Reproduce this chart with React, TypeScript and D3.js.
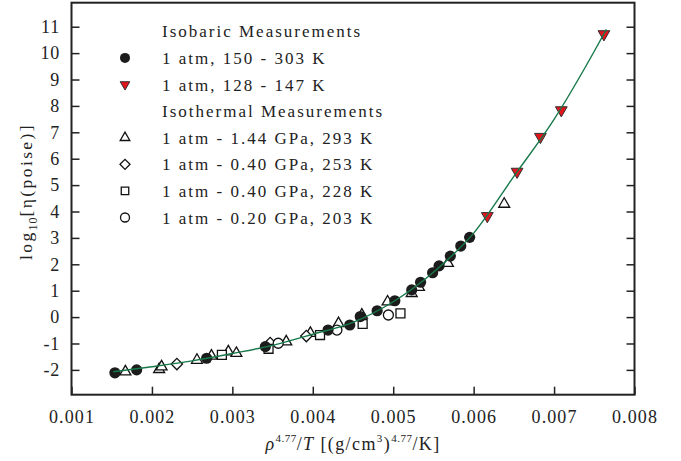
import React, { useEffect, useRef } from 'react';
import * as d3 from 'd3';

// isobaric, 1 atm, 150 - 303 K (filled circles)
const isoBarX = [0.00154, 0.00181, 0.00268, 0.00341, 0.00419, 0.00446, 0.00459, 0.0048, 0.00502, 0.00523, 0.00534, 0.00549, 0.00557, 0.00571, 0.00584, 0.00595];
const isoBarY = [-2.11, -2.0, -1.56, -1.12, -0.49, -0.3, 0.02, 0.24, 0.62, 1.03, 1.32, 1.68, 1.94, 2.31, 2.69, 3.02];
// isobaric, 1 atm, 128 - 147 K (red down triangles)
const lowTX = [0.00617, 0.00654, 0.00683, 0.00709, 0.00762];
const lowTY = [3.83, 5.51, 6.83, 7.84, 10.72];
// isothermal 293 K (open triangles)
const t293X = [0.00167, 0.00209, 0.00212, 0.00256, 0.00274, 0.00295, 0.00305, 0.00367, 0.00397, 0.00432, 0.00461, 0.00493, 0.00523, 0.00532, 0.00568, 0.00638];
const t293Y = [-2.07, -1.98, -1.88, -1.63, -1.47, -1.31, -1.37, -0.93, -0.61, -0.24, 0.08, 0.58, 0.9, 1.13, 2.04, 4.28];
// isothermal 253 K (open diamonds)
const t253X = [0.00231, 0.00347, 0.00392];
const t253Y = [-1.78, -0.98, -0.72];
// isothermal 228 K (open squares)
const t228X = [0.00287, 0.00345, 0.00409, 0.00462, 0.00509];
const t228Y = [-1.43, -1.2, -0.68, -0.26, 0.14];
// isothermal 203 K (open circles)
const t203X = [0.00357, 0.0043, 0.00494];
const t203Y = [-0.99, -0.49, 0.08];

// fitted curve
const fitX = [0.00152, 0.002, 0.0025, 0.003, 0.0035, 0.004, 0.0045, 0.005, 0.0055, 0.006, 0.0065, 0.007, 0.0075, 0.00765];
const fitY = [-2.07, -1.88, -1.66, -1.38, -1.07, -0.65, -0.2, 0.58, 1.7, 3.18, 5.33, 7.49, 10.07, 10.9];

const xTicks = [0.001, 0.002, 0.003, 0.004, 0.005, 0.006, 0.007, 0.008];
const yTicks = [-2, -1, 0, 1, 2, 3, 4, 5, 6, 7, 8, 9, 10, 11];

const legendItems = [
  { label: 'Isobaric Measurements', symbol: null },
  { label: '1 atm, 150 - 303 K', symbol: 'dot' },
  { label: '1 atm, 128 - 147 K', symbol: 'down' },
  { label: 'Isothermal Measurements', symbol: null },
  { label: '1 atm - 1.44 GPa, 293 K', symbol: 'tri' },
  { label: '1 atm - 0.40 GPa, 253 K', symbol: 'diamond' },
  { label: '1 atm - 0.40 GPa, 228 K', symbol: 'square' },
  { label: '1 atm - 0.20 GPa, 203 K', symbol: 'circle' },
];

const FONT = '"Liberation Serif", "Times New Roman", serif';
const W = 681;
const H = 461;

const App = () => {
  const svgRef = useRef<SVGSVGElement>(null);

  useEffect(() => {
    const svg = d3.select(svgRef.current);
    svg.selectAll('*').remove();

    const left = 71.5, right = 634.5, top = 2.7, bottom = 394.7;

    const x = d3.scaleLinear().domain([0.001, 0.008]).range([left, right]);
    const y = d3.scaleLinear().domain([-2.94, 11.91]).range([bottom, top]);

    const g = svg.append('g');

    // axes
    g.append('g')
      .attr('transform', `translate(0,${bottom})`)
      .call(d3.axisBottom(x).tickValues(xTicks).tickSize(-8).tickPadding(15.5).tickSizeOuter(0).tickFormat(d3.format('.3f')))
      .call(a => a.select('.domain').remove())
      .call(a => a.selectAll('line').attr('stroke', '#222').attr('stroke-width', 1.5))
      .call(a => a.selectAll('text').attr('fill', '#222').style('font-family', FONT).style('font-size', '18px').style('letter-spacing', '1.1px'));

    g.append('g')
      .attr('transform', `translate(${left},0)`)
      .call(d3.axisLeft(y).tickValues(yTicks).tickSize(-8).tickPadding(11.5).tickSizeOuter(0).tickFormat(d => String(d)))
      .call(a => a.select('.domain').remove())
      .call(a => a.selectAll('line').attr('stroke', '#222').attr('stroke-width', 1.5))
      .call(a => a.selectAll('text').attr('fill', '#222').style('font-family', FONT).style('font-size', '18px').style('letter-spacing', '0.8px'));

    g.append('g')
      .attr('transform', `translate(${right},0)`)
      .call(d3.axisRight(y).tickValues(yTicks).tickSize(-8).tickSizeOuter(0).tickFormat(() => ''))
      .call(a => a.select('.domain').remove())
      .call(a => a.selectAll('line').attr('stroke', '#222').attr('stroke-width', 1.5));

    g.append('rect')
      .attr('x', left).attr('y', top)
      .attr('width', right - left).attr('height', bottom - top)
      .attr('fill', 'none').attr('stroke', '#222').attr('stroke-width', 2);

    // markers
    const tri = d3.symbol().type(d3.symbolTriangle).size(52);
    const sq = d3.symbol().type(d3.symbolSquare).size(80);
    const dia = d3.symbol().type(d3.symbolSquare).size(64);

    const pts = (xs: number[], ys: number[]) => xs.map((v, i) => [v, ys[i]]);
    const marks = g.append('g');

    marks.selectAll('.tri').data(pts(t293X, t293Y)).join('path')
      .attr('d', tri).attr('transform', d => `translate(${x(d[0])},${y(d[1])})`)
      .attr('fill', 'white').attr('stroke', '#111').attr('stroke-width', 1.3);
    marks.selectAll('.dia').data(pts(t253X, t253Y)).join('path')
      .attr('d', dia).attr('transform', d => `translate(${x(d[0])},${y(d[1])}) rotate(45)`)
      .attr('fill', 'white').attr('stroke', '#111').attr('stroke-width', 1.3);
    marks.selectAll('.sq').data(pts(t228X, t228Y)).join('path')
      .attr('d', sq).attr('transform', d => `translate(${x(d[0])},${y(d[1])})`)
      .attr('fill', 'white').attr('stroke', '#111').attr('stroke-width', 1.3);
    marks.selectAll('.ci').data(pts(t203X, t203Y)).join('circle')
      .attr('cx', d => x(d[0])).attr('cy', d => y(d[1])).attr('r', 5)
      .attr('fill', 'white').attr('stroke', '#111').attr('stroke-width', 1.3);
    marks.selectAll('.dot').data(pts(isoBarX, isoBarY)).join('circle')
      .attr('cx', d => x(d[0])).attr('cy', d => y(d[1])).attr('r', 5.6)
      .attr('fill', '#1c1c1c');
    marks.selectAll('.down').data(pts(lowTX, lowTY)).join('path')
      .attr('d', d3.symbol().type(d3.symbolTriangle).size(60)).attr('transform', d => `translate(${x(d[0])},${y(d[1])}) rotate(180)`)
      .attr('fill', '#e3141c').attr('stroke', '#333').attr('stroke-width', 1);

    // fit line
    const line = d3.line<number>().x((d, i) => x(fitX[i])).y(d => y(d)).curve(d3.curveMonotoneX);
    g.append('path').attr('d', line(fitY)).attr('fill', 'none')
      .attr('stroke', '#17794a').attr('stroke-width', 1.4);

    // legend
    const lg = g.append('g');
    legendItems.forEach((item, i) => {
      const by = 37.3 + i * 26.6;
      const cy = by - 6;
      lg.append('text').attr('x', 162).attr('y', by).text(item.label)
        .attr('fill', '#222').style('font-family', FONT).style('font-size', '17px').style('letter-spacing', '2px');
      const sx = 125;
      if (item.symbol === 'dot') {
        lg.append('circle').attr('cx', sx).attr('cy', cy).attr('r', 5).attr('fill', '#1c1c1c');
      } else if (item.symbol === 'down') {
        lg.append('path').attr('d', d3.symbol().type(d3.symbolTriangle).size(40)())
          .attr('transform', `translate(${sx},${cy}) rotate(180)`).attr('fill', '#e3141c').attr('stroke', '#333');
      } else if (item.symbol === 'tri') {
        lg.append('path').attr('d', d3.symbol().type(d3.symbolTriangle).size(40)())
          .attr('transform', `translate(${sx},${cy})`).attr('fill', 'white').attr('stroke', '#111').attr('stroke-width', 1.3);
      } else if (item.symbol === 'diamond') {
        lg.append('path').attr('d', d3.symbol().type(d3.symbolSquare).size(50)())
          .attr('transform', `translate(${sx},${cy}) rotate(45)`).attr('fill', 'white').attr('stroke', '#111').attr('stroke-width', 1.3);
      } else if (item.symbol === 'square') {
        lg.append('path').attr('d', d3.symbol().type(d3.symbolSquare).size(56)())
          .attr('transform', `translate(${sx},${cy})`).attr('fill', 'white').attr('stroke', '#111').attr('stroke-width', 1.3);
      } else if (item.symbol === 'circle') {
        lg.append('circle').attr('cx', sx).attr('cy', cy).attr('r', 4.5)
          .attr('fill', 'white').attr('stroke', '#111').attr('stroke-width', 1.3);
      }
    });

    // x title
    const xt = g.append('text').attr('x', 353).attr('y', 450).attr('text-anchor', 'middle')
      .attr('fill', '#222').style('font-family', FONT).style('font-size', '18px').style('letter-spacing', '1.4px');
    xt.append('tspan').style('font-style', 'italic').text('ρ');
    xt.append('tspan').attr('dy', -8).style('font-size', '11px').style('letter-spacing', '0.5px').text('4.77');
    xt.append('tspan').attr('dy', 8).text('/');
    xt.append('tspan').style('font-style', 'italic').text('T');
    xt.append('tspan').text(' [(g/cm');
    xt.append('tspan').attr('dy', -8).style('font-size', '11px').text('3');
    xt.append('tspan').attr('dy', 8).text(')');
    xt.append('tspan').attr('dy', -8).style('font-size', '11px').style('letter-spacing', '0.5px').text('4.77');
    xt.append('tspan').attr('dy', 8).text('/K]');

    // y title
    const yt = g.append('text').attr('transform', 'translate(32,191.5) rotate(-90)').attr('text-anchor', 'middle')
      .attr('fill', '#222').style('font-family', FONT).style('font-size', '17.5px').style('letter-spacing', '2.4px');
    yt.append('tspan').text('log');
    yt.append('tspan').attr('dy', 5).style('font-size', '12px').style('letter-spacing', '1px').text('10');
    yt.append('tspan').attr('dy', -5).text('[η(poise)]');
  }, []);

  return (
    <svg ref={svgRef} width={W} height={H}
      style={{ position: 'absolute', left: 0, top: 0, background: 'white' }} />
  );
};

export default App;
